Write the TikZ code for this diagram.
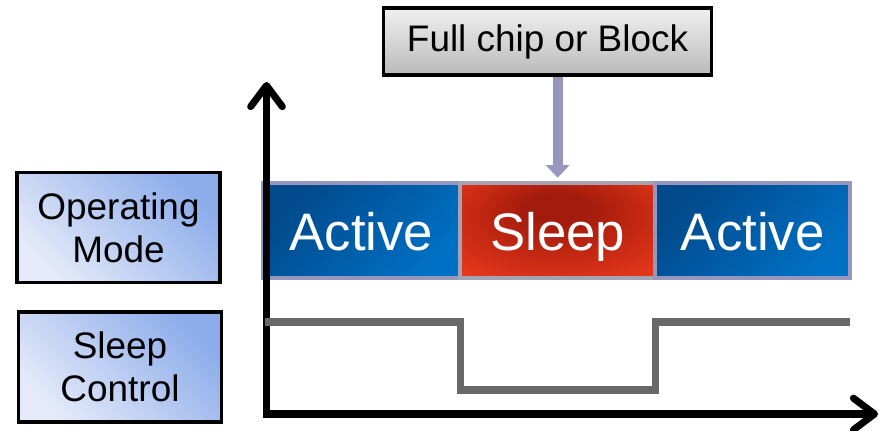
\documentclass[tikz,border=0pt]{standalone}
\usepackage{fontspec}
\setmainfont{Liberation Sans}
\usetikzlibrary{positioning,arrows.meta}

\definecolor{navy}{HTML}{00498A}
\definecolor{modeblue}{HTML}{0070C4}
\definecolor{sleepdark}{HTML}{A31B0C}
\definecolor{sleepmid}{HTML}{CF2D15}
\definecolor{sleepred}{HTML}{F43F1F}
\definecolor{framecol}{HTML}{9696BE}
\definecolor{sleepframe}{HTML}{A3A3B3}
\definecolor{labelhi}{HTML}{8CACEA}
\definecolor{labello}{HTML}{E4EAF9}
\definecolor{signalgray}{HTML}{686868}

\pgfdeclareradialshading{sleepglow}{\pgfpoint{0bp}{14bp}}{%
  color(0bp)=(sleepdark); color(8bp)=(sleepdark); color(26bp)=(sleepmid);
  color(42bp)=(sleepred); color(50bp)=(sleepred)}

\tikzset{
  namebox/.style={draw=black,line width=0.9pt,top color=labelhi,bottom color=labello,
    shading angle=-45,minimum width=2.03cm,minimum height=1.1cm,inner sep=0pt,
    align=center,font=\fontsize{10.5}{12.2}\selectfont},
  cell/.style={minimum height=0.95cm,inner sep=0pt,outer sep=0pt,line width=1.1pt,
    text height=0.45cm,text depth=0.05cm,text=white,font=\fontsize{15}{18}\selectfont},
  active/.style={cell,draw=framecol,top color=navy,bottom color=modeblue,shading angle=45},
  asleep/.style={cell,draw=sleepframe,shading=sleepglow},
  chipbox/.style={draw=black,line width=0.9pt,top color=white!94!black,bottom color=white!73!black,
    minimum width=3.27cm,minimum height=0.67cm,font=\fontsize{10.5}{12}\selectfont},
  pointer/.style={draw=framecol,line width=2.8pt,-{Triangle[length=3.6pt,width=6.6pt]}},
  axisline/.style={line width=2pt,
    {Straight Barb[round,length=6pt,width=9pt]}-{Straight Barb[round,length=6pt,width=9pt]}},
  signal/.style={draw=signalgray,line width=2pt}
}

\begin{document}
\begin{tikzpicture}[x=0.01cm,y=0.01cm]
  \useasboundingbox (0,0) rectangle (883,430);

  \node[namebox] (opmode) at (118.5,202.5) {Operating\\Mode};
  \node[namebox] (sleepctl) at (120,63) {Sleep\\Control};

  % operating mode bar
  \node[active,minimum width=1.97cm] (act1) at (361.5,199.5) {Active};
  \node[asleep,minimum width=1.95cm,right=0pt of act1] (slp) {Sleep};
  \node[active,minimum width=1.95cm,right=0pt of slp] (act2) {Active};

  \node[chipbox] (chip) at (547.5,388.5) {Full chip or Block};
  \draw[pointer,shorten >=1.5pt] (chip.south -| slp) -- (slp.north);

  % axes
  \coordinate (ytip) at (266.5,348);
  \coordinate (origin) at (266.5,16);
  \coordinate (xtip) at (878,16);
  \draw[axisline] (ytip) -- (origin) -- (xtip);

  % sleep control signal
  \coordinate (hi) at (265,108);
  \coordinate (lo) at (265,40);
  \draw[signal] (hi) -- (hi -| slp.west) -- (lo -| slp.west)
    -- (lo -| slp.east) -- (hi -| slp.east) -- (hi -| act2.east);
\end{tikzpicture}
\end{document}
